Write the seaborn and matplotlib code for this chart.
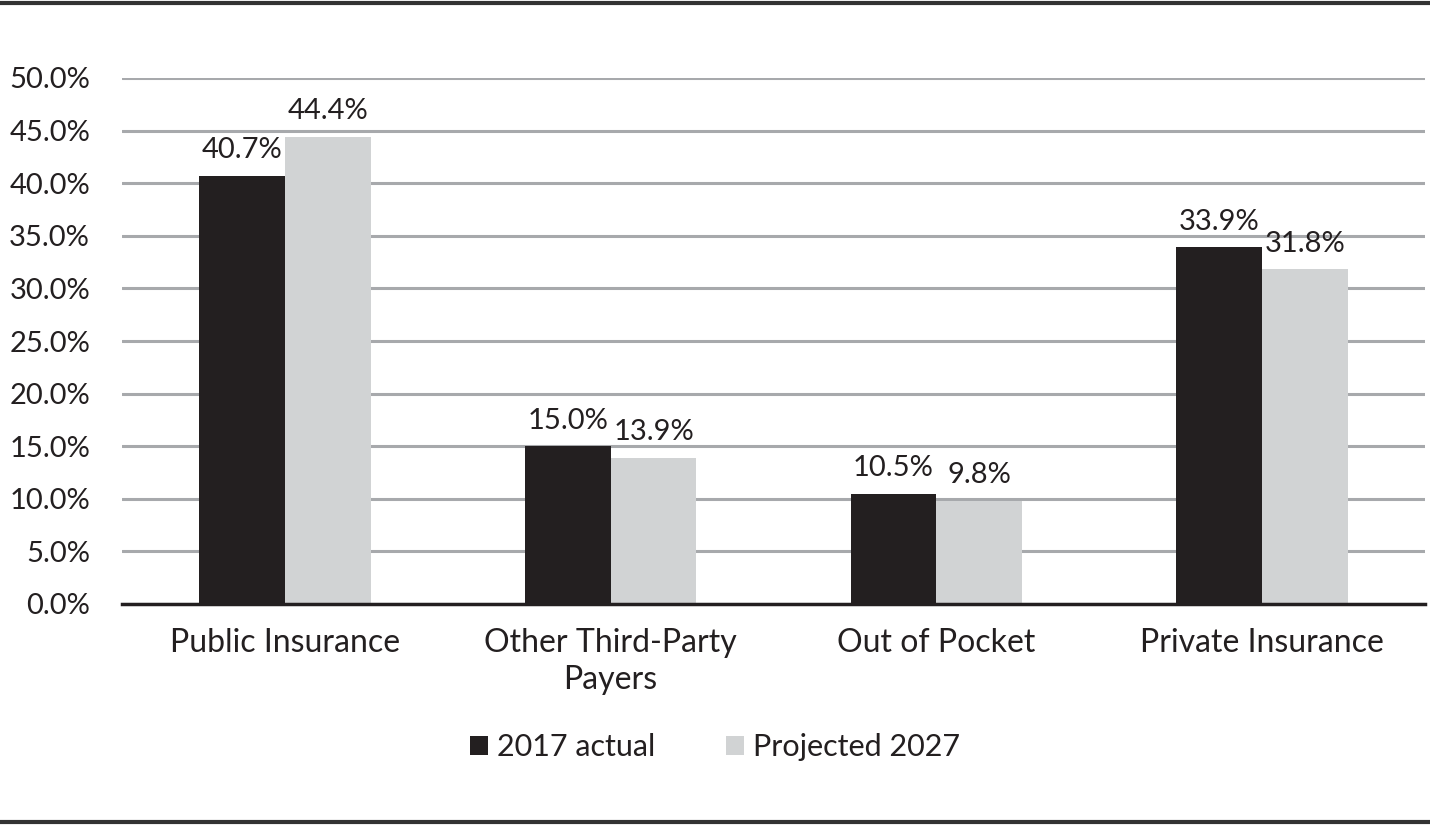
import matplotlib
matplotlib.use("Agg")
import matplotlib.pyplot as plt
import seaborn as sns
import pandas as pd
from matplotlib.lines import Line2D
from matplotlib.patches import Patch

categories = ["Public Insurance", "Other Third-Party\nPayers", "Out of Pocket", "Private Insurance"]
series_names = ["2017 actual", "Projected 2027"]
actual_2017 = [40.7, 15.0, 10.5, 33.9]
projected_2027 = [44.4, 13.9, 9.8, 31.8]
y_ticks = [0, 5, 10, 15, 20, 25, 30, 35, 40, 45, 50]

colors = ["#231f20", "#d1d3d4"]

df = pd.DataFrame({
    "category": categories * 2,
    "series": [series_names[0]] * 4 + [series_names[1]] * 4,
    "value": actual_2017 + projected_2027,
})

sns.set_theme(style="white")
plt.rcParams["font.family"] = ["Lato", "DejaVu Sans"]
plt.rcParams["text.color"] = "#231f20"

fig = plt.figure(figsize=(14.3, 8.26), dpi=100)
ax = fig.add_axes([122 / 1430, 1 - 604 / 826, (1425 - 122) / 1430, (604 - 78) / 826])

sns.barplot(data=df, x="category", y="value", hue="series", palette=colors,
            width=0.527, gap=0, saturation=1, ax=ax, legend=False, edgecolor="none")

ax.set_ylim(0, 50)
ax.set_xlim(-0.5, 3.5)
ax.set_yticks(y_ticks)
ax.set_yticklabels([f"{v:.1f}%" for v in y_ticks])
ax.yaxis.grid(True, color="#a7a9ac", linewidth=2.2)
ax.set_axisbelow(True)
ax.set_xlabel("")
ax.set_ylabel("")
for s in ["top", "right", "left"]:
    ax.spines[s].set_visible(False)
ax.spines["bottom"].set_color("#231f20")
ax.spines["bottom"].set_linewidth(2.5)
ax.spines["bottom"].set_zorder(5)
ax.tick_params(axis="y", length=0, pad=23, labelsize=21, labelcolor="#231f20")
ax.tick_params(axis="x", length=0, pad=17, labelsize=23, labelcolor="#231f20")
for lbl in ax.get_xticklabels():
    lbl.set_linespacing(1.3)

for cont in ax.containers:
    ax.bar_label(cont, fmt="%.1f%%", padding=9, fontsize=21, color="#231f20")

handles = [Patch(facecolor=c, edgecolor="none") for c in colors]
fig.legend(handles, series_names, loc="center", bbox_to_anchor=(0.5, 1 - 747 / 826),
           ncol=2, frameon=False, fontsize=22, handlelength=0.6, handleheight=0.6,
           handletextpad=0.3, columnspacing=2.3)

fig.add_artist(Line2D([0, 1], [1 - 3 / 826, 1 - 3 / 826], transform=fig.transFigure,
                      color="#333333", linewidth=3))
fig.add_artist(Line2D([0, 1], [1 - 822 / 826, 1 - 822 / 826], transform=fig.transFigure,
                      color="#333333", linewidth=3))

fig.savefig("out.png", dpi=100)
